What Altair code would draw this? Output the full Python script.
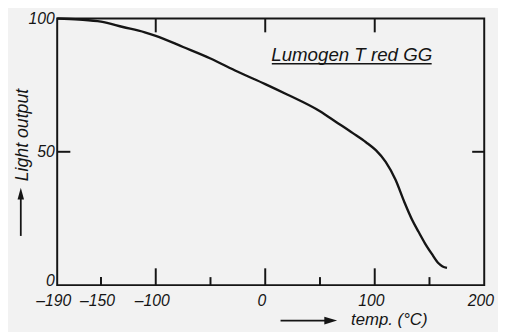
import altair as alt
import pandas as pd

# curve data
temp = [-190, -170, -150, -130, -110, -100, -75, -50, -25, 0, 20, 50, 65, 80, 92,
        101, 110, 119, 127, 134, 140, 146, 152, 158, 162, 166]
light = [100, 99.6, 98.8, 96.8, 94.8, 93.5, 89.3, 85, 80, 75.4, 71.5, 65.2, 61.1, 57.0, 53.6,
         50.6, 46.2, 39.5, 31.2, 24.6, 20.0, 15.6, 11.8, 8.3, 7.0, 6.5]

x_labels = [-190, -150, -100, 0, 100, 200]
y_labels = [0, 50, 100]
major_ticks = [-100, 0, 100]
minor_ticks = [-150, -50, 50, 150]
legend_text = ["Lumogen T red GG"]

FONT = "Liberation Sans Narrow, Liberation Sans, sans-serif"
INK = "#151515"

xs = alt.Scale(domain=[-190, 200], nice=False, zero=False)
ys = alt.Scale(domain=[0, 100], nice=False, zero=True)

x_axis = alt.Axis(
    values=x_labels, ticks=False, domain=False, grid=False,
    labelExpr="datum.value < 0 ? '\u2013' + abs(datum.value) : datum.label",
    labelFont=FONT, labelFontStyle="italic", labelFontSize=16, labelColor=INK,
    labelPadding=8, labelOffset=-4, labelFlush=False,
    title="temp. (\u00b0C)", titleFont=FONT, titleFontStyle="italic",
    titleFontWeight="normal", titleFontSize=17, titleColor=INK,
    titleX=337, titleY=35, titleAlign="center", titleBaseline="middle")
y_axis = alt.Axis(
    values=y_labels, ticks=False, domain=False, grid=False,
    labelFont=FONT, labelFontStyle="italic", labelFontSize=16, labelColor=INK,
    labelPadding=3, labelFlush=False,
    labelOffset={"condition": {"test": "datum.value == 0", "value": -5}, "value": 0},
    title="Light output", titleFont=FONT, titleFontStyle="italic",
    titleFontWeight="normal", titleFontSize=18, titleColor=INK,
    titleX=-35, titleY=118, titleAlign="center", titleBaseline="middle",
    titleAngle=270)

curve = pd.DataFrame({"t": temp, "l": light})

line = alt.Chart(curve).mark_line(color=INK, strokeWidth=2.4, interpolate="monotone").encode(
    x=alt.X("t:Q", scale=xs, axis=x_axis),
    y=alt.Y("l:Q", scale=ys, axis=y_axis),
)

# inward ticks
tick_rows = []
for t in major_ticks:
    tick_rows.append({"t": t, "t2": t, "l": 0, "l2": 6.3})
    tick_rows.append({"t": t, "t2": t, "l": 100, "l2": 94.8})
for t in minor_ticks:
    tick_rows.append({"t": t, "t2": t, "l": 0, "l2": 3.0})
tick_rows.append({"t": -190, "t2": -178, "l": 50, "l2": 50})
tick_rows.append({"t": 189, "t2": 200, "l": 50, "l2": 50})
ticks = alt.Chart(pd.DataFrame(tick_rows)).mark_rule(color=INK, strokeWidth=2).encode(
    x=alt.X("t:Q", scale=xs, axis=x_axis),
    x2="t2:Q",
    y=alt.Y("l:Q", scale=ys, axis=y_axis),
    y2="l2:Q",
)

# legend-like label with underline
lab = pd.DataFrame({"t": [79], "l": [86.3], "txt": legend_text})
label = alt.Chart(lab).mark_text(
    font=FONT, fontStyle="italic", fontSize=19, color=INK, align="center", baseline="middle"
).encode(
    x=alt.X("t:Q", scale=xs, axis=x_axis),
    y=alt.Y("l:Q", scale=ys, axis=y_axis),
    text="txt:N",
)
under = alt.Chart(pd.DataFrame({"t": [6], "t2": [152], "l": [83]})).mark_rule(
    color=INK, strokeWidth=1.6
).encode(
    x=alt.X("t:Q", scale=xs, axis=x_axis), x2="t2:Q",
    y=alt.Y("l:Q", scale=ys, axis=y_axis),
)

# arrows next to the axis titles
arrow_y_line = alt.Chart(pd.DataFrame({"a": [0]})).mark_rule(color=INK, strokeWidth=1.8).encode(
    x=alt.value(-37), y=alt.value(221), y2=alt.value(180)
)
arrow_y_head = alt.Chart(pd.DataFrame({"a": [0]})).mark_point(
    shape="M -0.55 1 L 0 -1 L 0.55 1 Z", filled=True, color=INK, opacity=1, size=144
).encode(x=alt.value(-37), y=alt.value(178))
arrow_x_line = alt.Chart(pd.DataFrame({"a": [0]})).mark_rule(color=INK, strokeWidth=1.8).encode(
    x=alt.value(227), x2=alt.value(274), y=alt.value(307)
)
arrow_x_head = alt.Chart(pd.DataFrame({"a": [0]})).mark_point(
    shape="M -1 -0.6 L 1 0 L -1 0.6 Z", filled=True, color=INK, opacity=1, size=169
).encode(x=alt.value(278), y=alt.value(307))

chart = alt.layer(
    line, ticks, label, under, arrow_y_line, arrow_y_head, arrow_x_line, arrow_x_head
).properties(
    width=434, height=271,
    autosize=alt.AutoSizeParams(type="none"),
    padding={"left": 50, "top": 8, "right": 14, "bottom": 45},
    background="#f2f2f2",
).configure_view(
    stroke=INK, strokeWidth=2
)

chart.save("out.html", embed_options={"renderer": "svg", "actions": False})
